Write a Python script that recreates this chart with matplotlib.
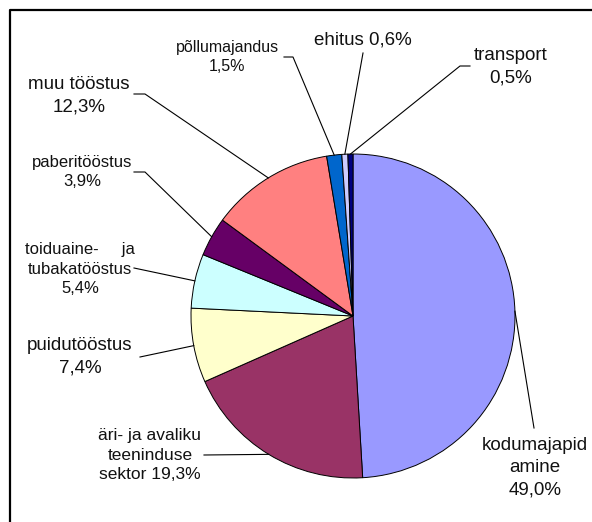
import matplotlib.pyplot as plt
import numpy as np

# energy use by sector, %
sectors = ['kodumajapidamine', 'äri- ja avaliku teeninduse sektor', 'puidutööstus',
           'toiduaine- ja tubakatööstus', 'paberitööstus', 'muu tööstus',
           'põllumajandus', 'ehitus', 'transport']
shares = [49.0, 19.3, 7.4, 5.4, 3.9, 12.3, 1.5, 0.6, 0.5]
colors = ['#9999FF', '#993366', '#FFFFCC', '#CCFFFF', '#660066', '#FF8080',
          '#0066CC', '#CCCCFF', '#000080']
label_texts = ['kodumajapid\namine\n49,0%', 'äri- ja avaliku\nteeninduse\nsektor 19,3%',
               'puidutööstus\n7,4%', 'toiduaine-     ja\ntubakatööstus\n5,4%',
               'paberitööstus\n3,9%', 'muu tööstus\n12,3%', 'põllumajandus\n1,5%',
               'ehitus 0,6%', 'transport\n0,5%']

plt.rcParams['font.family'] = ['Liberation Sans', 'DejaVu Sans']

W, H = 592, 522
fig = plt.figure(figsize=(W / 100, H / 100), dpi=100)
ax = fig.add_axes([0, 0, 1, 1])

cx, cy, r = 353, H - 316, 162
wedges, _ = ax.pie(shares, colors=colors, startangle=90, counterclock=False,
                   center=(cx, cy), radius=r, frame=True,
                   wedgeprops=dict(edgecolor='black', linewidth=0.7))

# label layout in pixel coords (top-left origin): text centre, leader start, elbow, font size
layout = [
    ((535, 468), (534, 428), None, 13.5),
    ((150, 455), (204, 455), None, 12.5),
    ((80, 357), (140, 357), None, 13.5),
    ((80, 269), (134, 268), None, 12),
    ((82, 172), (134, 172), (145, 172), 12),
    ((79, 96), (134, 94), (145, 94), 13.5),
    ((227, 57), (284, 57), (293, 57), 11.5),
    ((363, 40), (363, 53), None, 13.5),
    ((511, 67), (470, 66), (460, 66), 13.5),
]

for w, txt, (tc, ls, el, fs) in zip(wedges, label_texts, layout):
    mid = np.deg2rad((w.theta1 + w.theta2) / 2)
    px, py = cx + r * np.cos(mid), cy + r * np.sin(mid)
    pts = [(ls[0], H - ls[1])]
    if el:
        pts.append((el[0], H - el[1]))
    pts.append((px, py))
    xs, ys = zip(*pts)
    ax.plot(xs, ys, color='black', linewidth=0.8)
    ax.text(tc[0], H - tc[1], txt, ha='center', va='center', fontsize=fs,
            linespacing=1.4, color='#111111')

# frame (left and top edges visible)
ax.plot([9.5, 9.5, W + 5], [-5, H - 9.5, H - 9.5], color='black', linewidth=1.6,
        clip_on=False)

ax.set_xlim(0, W)
ax.set_ylim(0, H)
ax.set_aspect('equal')
ax.axis('off')
fig.savefig('out.png', dpi=100)
